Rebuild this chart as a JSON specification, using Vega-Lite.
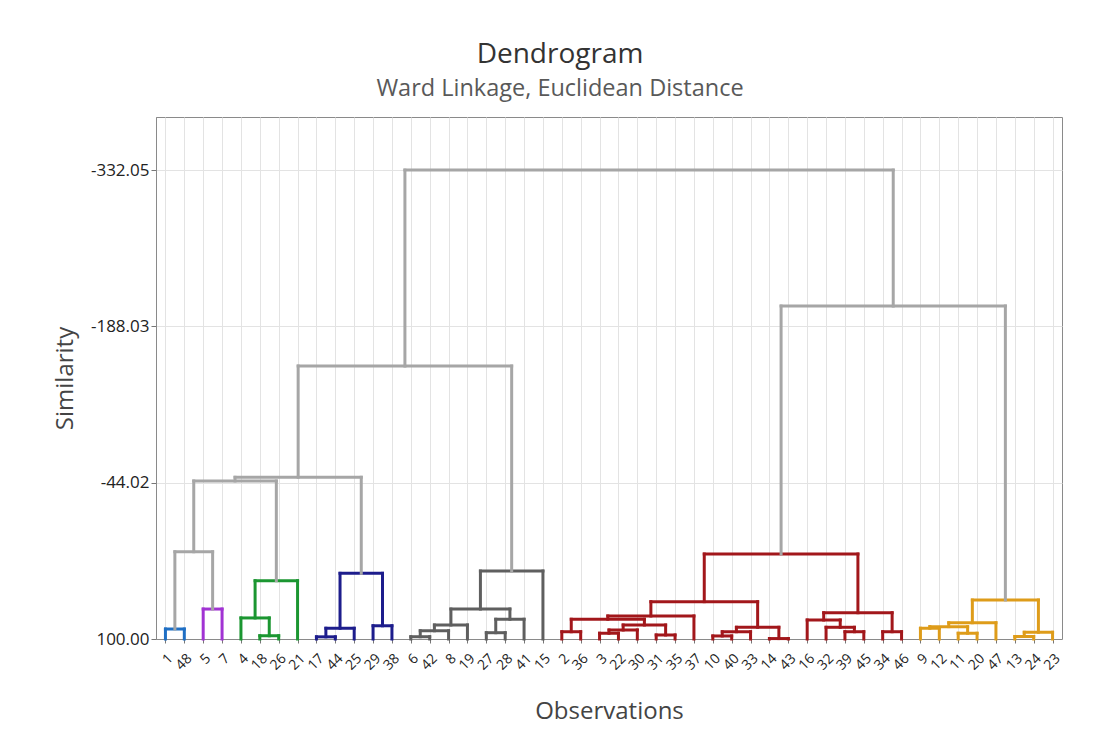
{
  "$schema": "https://vega.github.io/schema/vega-lite/v6.json",
  "width": 906,
  "height": 522,
  "autosize": {"type": "none"},
  "padding": {"left": 156, "top": 117, "right": 38, "bottom": 101},
  "background": "white",
  "title": {
    "text": "Dendrogram",
    "subtitle": "Ward Linkage, Euclidean Distance",
    "anchor": "middle",
    "frame": "group",
    "dx": -49,
    "offset": 17,
    "font": "Open Sans",
    "fontSize": 28,
    "fontWeight": "normal",
    "color": "#333333",
    "subtitleFont": "Open Sans",
    "subtitleFontSize": 23.5,
    "subtitleColor": "#595959",
    "subtitlePadding": 8
  },
  "config": {
    "view": {"stroke": "#8a8a8a", "strokeWidth": 1},
    "axis": {
      "labelFont": "Open Sans",
      "titleFont": "Open Sans",
      "labelColor": "#222222",
      "titleColor": "#444444",
      "titleFontWeight": "normal",
      "domainColor": "#8a8a8a",
      "tickColor": "#777777",
      "gridColor": "#e3e3e3",
      "gridWidth": 1
    }
  },
  "data": {
    "values": [
      {"xl": 1, "xr": 2, "hl": 100, "hr": 100, "h": 90.8, "c": "blue"},
      {"xl": 3, "xr": 4, "hl": 100, "hr": 100, "h": 72.4, "c": "purple"},
      {"xl": 1.5, "xr": 3.5, "hl": 90.8, "hr": 72.4, "h": 19.6, "c": "gray"},
      {"xl": 6, "xr": 7, "hl": 100, "hr": 100, "h": 97.0, "c": "green"},
      {"xl": 5, "xr": 6.5, "hl": 100, "hr": 97.0, "h": 80.6, "c": "green"},
      {"xl": 5.75, "xr": 8, "hl": 80.6, "hr": 100, "h": 46.3, "c": "green"},
      {"xl": 2.5, "xr": 6.875, "hl": 19.6, "hr": 46.3, "h": -45.6, "c": "gray"},
      {"xl": 9, "xr": 10, "hl": 100, "hr": 100, "h": 98.0, "c": "navy"},
      {"xl": 9.5, "xr": 11, "hl": 98.0, "hr": 100, "h": 90.1, "c": "navy"},
      {"xl": 12, "xr": 13, "hl": 100, "hr": 100, "h": 87.8, "c": "navy"},
      {"xl": 10.25, "xr": 12.5, "hl": 90.1, "hr": 87.8, "h": 39.5, "c": "navy"},
      {"xl": 4.6875, "xr": 11.375, "hl": -45.6, "hr": 39.5, "h": -49.0, "c": "gray"},
      {"xl": 14, "xr": 15, "hl": 100, "hr": 100, "h": 97.9, "c": "dark"},
      {"xl": 14.5, "xr": 16, "hl": 97.9, "hr": 100, "h": 92.4, "c": "dark"},
      {"xl": 15.25, "xr": 17, "hl": 92.4, "hr": 100, "h": 87.1, "c": "dark"},
      {"xl": 18, "xr": 19, "hl": 100, "hr": 100, "h": 94.2, "c": "dark"},
      {"xl": 18.5, "xr": 20, "hl": 94.2, "hr": 100, "h": 81.8, "c": "dark"},
      {"xl": 16.125, "xr": 19.25, "hl": 87.1, "hr": 81.8, "h": 72.4, "c": "dark"},
      {"xl": 17.6875, "xr": 21, "hl": 72.4, "hr": 100, "h": 37.4, "c": "dark"},
      {"xl": 8.03125, "xr": 19.34375, "hl": -49.0, "hr": 37.4, "h": -151.5, "c": "gray"},
      {"xl": 22, "xr": 23, "hl": 100, "hr": 100, "h": 93.3, "c": "red"},
      {"xl": 24, "xr": 25, "hl": 100, "hr": 100, "h": 94.7, "c": "red"},
      {"xl": 24.5, "xr": 26, "hl": 94.7, "hr": 100, "h": 91.7, "c": "red"},
      {"xl": 27, "xr": 28, "hl": 100, "hr": 100, "h": 96.3, "c": "red"},
      {"xl": 25.25, "xr": 27.5, "hl": 91.7, "hr": 96.3, "h": 87.1, "c": "red"},
      {"xl": 22.5, "xr": 26.375, "hl": 93.3, "hr": 87.1, "h": 81.8, "c": "red"},
      {"xl": 24.4375, "xr": 29, "hl": 81.8, "hr": 100, "h": 78.8, "c": "red"},
      {"xl": 30, "xr": 31, "hl": 100, "hr": 100, "h": 97.2, "c": "red"},
      {"xl": 30.5, "xr": 32, "hl": 97.2, "hr": 100, "h": 93.3, "c": "red"},
      {"xl": 33, "xr": 34, "hl": 100, "hr": 100, "h": 99.6, "c": "red"},
      {"xl": 31.25, "xr": 33.5, "hl": 93.3, "hr": 99.6, "h": 89.2, "c": "red"},
      {"xl": 26.71875, "xr": 32.375, "hl": 78.8, "hr": 89.2, "h": 65.6, "c": "red"},
      {"xl": 37, "xr": 38, "hl": 100, "hr": 100, "h": 93.3, "c": "red"},
      {"xl": 36, "xr": 37.5, "hl": 100, "hr": 93.3, "h": 89.2, "c": "red"},
      {"xl": 35, "xr": 36.75, "hl": 100, "hr": 89.2, "h": 82.5, "c": "red"},
      {"xl": 39, "xr": 40, "hl": 100, "hr": 100, "h": 93.3, "c": "red"},
      {"xl": 35.875, "xr": 39.5, "hl": 82.5, "hr": 93.3, "h": 75.8, "c": "red"},
      {"xl": 29.546875, "xr": 37.6875, "hl": 65.6, "hr": 75.8, "h": 21.7, "c": "red"},
      {"xl": 41, "xr": 42, "hl": 100, "hr": 100, "h": 90.1, "c": "orange"},
      {"xl": 43, "xr": 44, "hl": 100, "hr": 100, "h": 94.7, "c": "orange"},
      {"xl": 41.5, "xr": 43.5, "hl": 90.1, "hr": 94.7, "h": 88.6, "c": "orange"},
      {"xl": 42.5, "xr": 45, "hl": 88.6, "hr": 100, "h": 85.0, "c": "orange"},
      {"xl": 46, "xr": 47, "hl": 100, "hr": 100, "h": 97.7, "c": "orange"},
      {"xl": 46.5, "xr": 48, "hl": 97.7, "hr": 100, "h": 93.8, "c": "orange"},
      {"xl": 43.75, "xr": 47.25, "hl": 85.0, "hr": 93.8, "h": 64.1, "c": "orange"},
      {"xl": 33.6171875, "xr": 45.5, "hl": 21.7, "hr": 64.1, "h": -206.8, "c": "gray"},
      {"xl": 13.6875, "xr": 39.55859375, "hl": -151.5, "hr": -206.8, "h": -332.05, "c": "gray"}
    ]
  },
  "layer": [
    {
      "mark": {"type": "rule", "strokeWidth": 3, "strokeCap": "square"},
      "encoding": {
        "x": {"field": "xl", "type": "quantitative",
          "scale": {"domain": [0.5, 48.5], "nice": false, "zero": false},
          "axis": {
            "title": "Observations",
            "values": [1,2,3,4,5,6,7,8,9,10,11,12,13,14,15,16,17,18,19,20,21,22,23,24,25,26,27,28,29,30,31,32,33,34,35,36,37,38,39,40,41,42,43,44,45,46,47,48],
            "tickCount": 48,
            "labelExpr": "['1','48','5','7','4','18','26','21','17','44','25','29','38','6','42','8','19','27','28','41','15','2','36','3','22','30','31','35','37','10','40','33','14','43','16','32','39','45','34','46','9','12','11','20','47','13','24','23'][datum.value - 1]",
            "labelAngle": -45, "labelAlign": "right", "labelBaseline": "middle",
            "labelOffset": 5, "labelPadding": 13, "labelFontSize": 14, "labelOverlap": false,
            "tickSize": 4, "grid": true,
            "titleFontSize": 24, "titleX": 453, "titleY": 72, "titleBaseline": "middle", "titleAlign": "center"
          }
        },
        "x2": {"field": "xr"},
        "y": {"field": "h", "type": "quantitative",
          "scale": {"domain": [-381, 100], "reverse": true, "nice": false, "zero": false},
          "axis": {
            "title": "Similarity",
            "values": [100, -44.02, -188.03, -332.05],
            "labelExpr": "replace(format(datum.value, '.2f'), '−', '-')",
            "labelFontSize": 17, "labelPadding": 2, "tickSize": 5, "grid": true, "labelOverlap": false,
            "titleFontSize": 24, "titleAngle": -90, "titleX": -91, "titleY": 261, "titleBaseline": "middle", "titleAlign": "center"
          }
        },
        "color": {"field": "c", "type": "nominal", "legend": null,
          "scale": {"domain": ["gray", "blue", "purple", "green", "navy", "dark", "red", "orange"],
                    "range": ["#a6a6a6", "#1f6fc4", "#a133d3", "#1b9631", "#1d1d8c", "#5f5f5f", "#a2171b", "#de9c1a"]}}
      }
    },
    {
      "mark": {"type": "rule", "strokeWidth": 3, "strokeCap": "square"},
      "encoding": {
        "x": {"field": "xl", "type": "quantitative",
          "scale": {"domain": [0.5, 48.5], "nice": false, "zero": false},
          "axis": {
            "title": "Observations",
            "values": [1,2,3,4,5,6,7,8,9,10,11,12,13,14,15,16,17,18,19,20,21,22,23,24,25,26,27,28,29,30,31,32,33,34,35,36,37,38,39,40,41,42,43,44,45,46,47,48],
            "tickCount": 48,
            "labelExpr": "['1','48','5','7','4','18','26','21','17','44','25','29','38','6','42','8','19','27','28','41','15','2','36','3','22','30','31','35','37','10','40','33','14','43','16','32','39','45','34','46','9','12','11','20','47','13','24','23'][datum.value - 1]",
            "labelAngle": -45, "labelAlign": "right", "labelBaseline": "middle",
            "labelOffset": 5, "labelPadding": 13, "labelFontSize": 14, "labelOverlap": false,
            "tickSize": 4, "grid": true,
            "titleFontSize": 24, "titleX": 453, "titleY": 72, "titleBaseline": "middle", "titleAlign": "center"
          }
        },
        "y": {"field": "hl", "type": "quantitative",
          "scale": {"domain": [-381, 100], "reverse": true, "nice": false, "zero": false},
          "axis": {
            "title": "Similarity",
            "values": [100, -44.02, -188.03, -332.05],
            "labelExpr": "replace(format(datum.value, '.2f'), '−', '-')",
            "labelFontSize": 17, "labelPadding": 2, "tickSize": 5, "grid": true, "labelOverlap": false,
            "titleFontSize": 24, "titleAngle": -90, "titleX": -91, "titleY": 261, "titleBaseline": "middle", "titleAlign": "center"
          }
        },
        "y2": {"field": "h"},
        "color": {"field": "c", "type": "nominal", "legend": null,
          "scale": {"domain": ["gray", "blue", "purple", "green", "navy", "dark", "red", "orange"],
                    "range": ["#a6a6a6", "#1f6fc4", "#a133d3", "#1b9631", "#1d1d8c", "#5f5f5f", "#a2171b", "#de9c1a"]}}
      }
    },
    {
      "mark": {"type": "rule", "strokeWidth": 3, "strokeCap": "square"},
      "encoding": {
        "x": {"field": "xr", "type": "quantitative",
          "scale": {"domain": [0.5, 48.5], "nice": false, "zero": false},
          "axis": {
            "title": "Observations",
            "values": [1,2,3,4,5,6,7,8,9,10,11,12,13,14,15,16,17,18,19,20,21,22,23,24,25,26,27,28,29,30,31,32,33,34,35,36,37,38,39,40,41,42,43,44,45,46,47,48],
            "tickCount": 48,
            "labelExpr": "['1','48','5','7','4','18','26','21','17','44','25','29','38','6','42','8','19','27','28','41','15','2','36','3','22','30','31','35','37','10','40','33','14','43','16','32','39','45','34','46','9','12','11','20','47','13','24','23'][datum.value - 1]",
            "labelAngle": -45, "labelAlign": "right", "labelBaseline": "middle",
            "labelOffset": 5, "labelPadding": 13, "labelFontSize": 14, "labelOverlap": false,
            "tickSize": 4, "grid": true,
            "titleFontSize": 24, "titleX": 453, "titleY": 72, "titleBaseline": "middle", "titleAlign": "center"
          }
        },
        "y": {"field": "hr", "type": "quantitative",
          "scale": {"domain": [-381, 100], "reverse": true, "nice": false, "zero": false},
          "axis": {
            "title": "Similarity",
            "values": [100, -44.02, -188.03, -332.05],
            "labelExpr": "replace(format(datum.value, '.2f'), '−', '-')",
            "labelFontSize": 17, "labelPadding": 2, "tickSize": 5, "grid": true, "labelOverlap": false,
            "titleFontSize": 24, "titleAngle": -90, "titleX": -91, "titleY": 261, "titleBaseline": "middle", "titleAlign": "center"
          }
        },
        "y2": {"field": "h"},
        "color": {"field": "c", "type": "nominal", "legend": null,
          "scale": {"domain": ["gray", "blue", "purple", "green", "navy", "dark", "red", "orange"],
                    "range": ["#a6a6a6", "#1f6fc4", "#a133d3", "#1b9631", "#1d1d8c", "#5f5f5f", "#a2171b", "#de9c1a"]}}
      }
    }
  ]
}
